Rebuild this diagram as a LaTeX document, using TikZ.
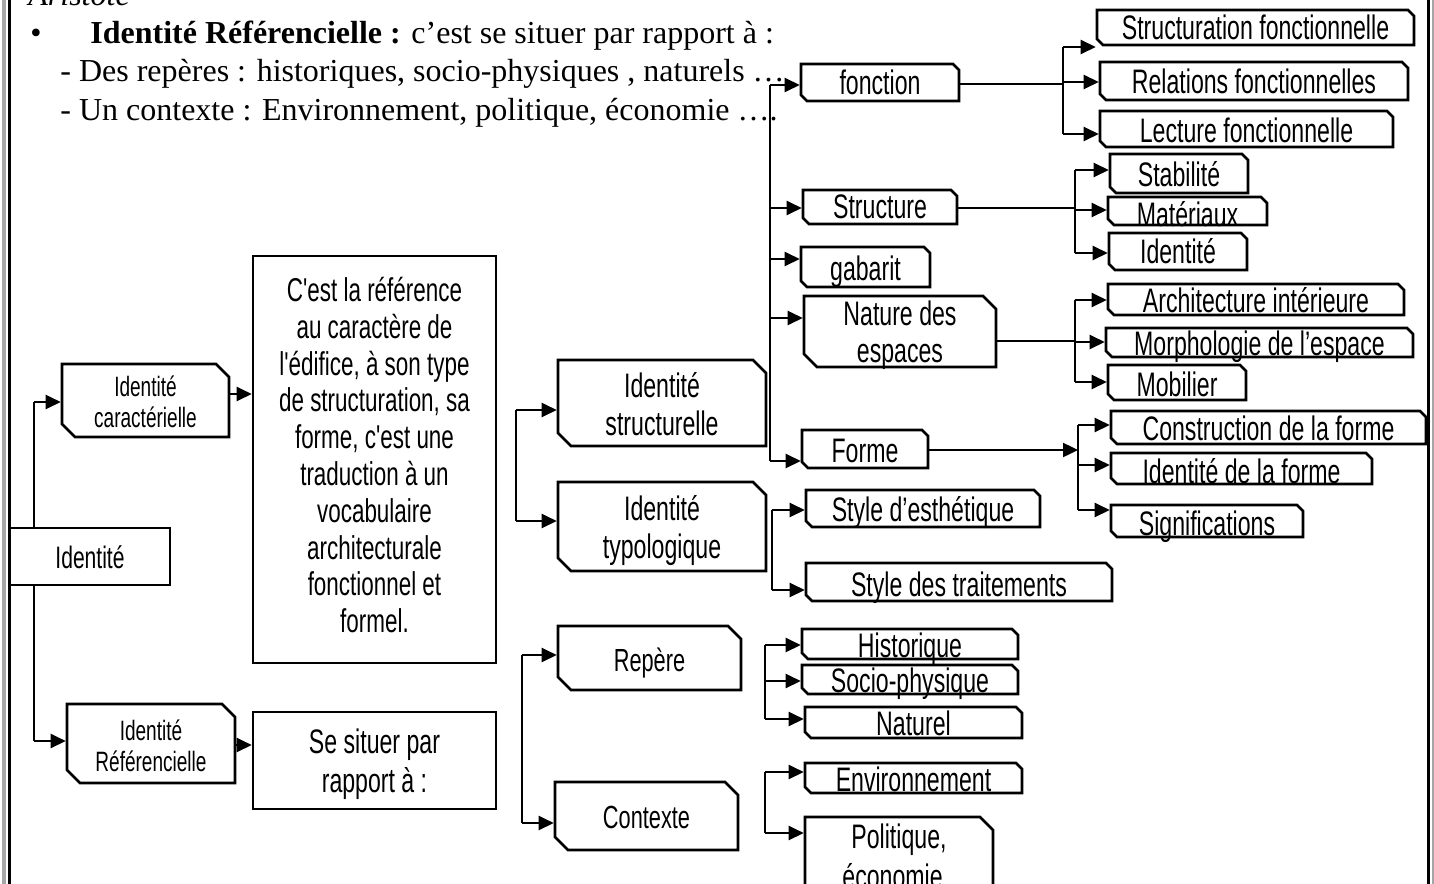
\documentclass[tikz,border=0pt]{standalone}
\usepackage{fontspec}
\setmainfont{Liberation Serif}
\newfontfamily\ag[FakeStretch=0.68]{Liberation Sans}
\usetikzlibrary{shapes.misc,arrows.meta}
\newcommand\fz[2]{\ag\fontsize{#1}{#2}\selectfont}
\newcommand\mkbox[8]{%
  \node[#1, minimum width={(#5-#3)*0.5pt}, minimum height={(#6-#4)*0.5pt}] (#2) at ({(#3+#5)/2},{(#4+#6)/2})
  {\raisebox{-#7pt}[0pt][0pt]{\begin{tabular}[t]{@{}c@{}}#8\end{tabular}}};}
\tikzset{
  bx/.style={chamfered rectangle, chamfered rectangle corners={north east,south west},
    chamfered rectangle xsep=3pt, chamfered rectangle ysep=3pt,
    draw, line width=1.3pt, fill=white, inner sep=0pt, font={\fz{17}{19}}},
  bigch/.style={chamfered rectangle xsep=6.5pt, chamfered rectangle ysep=6.5pt},
  rbx/.style={rectangle, draw, line width=1.3pt, fill=white, inner sep=0pt, font={\fz{17}{19}}},
  ln/.style={line width=1.2pt},
  ar/.style={line width=1.2pt, -{Triangle[length=7.5pt,width=7pt]}},
  txt/.style={anchor=base west, inner sep=0pt, font={\fontsize{16}{19}\selectfont}},
}
\begin{document}
\begin{tikzpicture}[x=0.5pt,y=-0.5pt]
\useasboundingbox (0,0) rectangle (1434,883);
\fill[white] (0,0) rectangle (1434,883);
% page borders
\draw[line width=2pt, gray!70] (4,-5) -- (4,890);
\draw[line width=1.6pt] (9.5,-5) -- (9.5,890);
\draw[line width=1.5pt] (1428,-5) -- (1428,890);
\draw[line width=1pt, gray!70] (1432.5,-5) -- (1432.5,890);
% header text
\node[txt, font={\fontsize{16}{19}\selectfont\itshape}] (ari) at (28,6) {Aristote};
\node[txt] (bul) at (30,44) {•};
\node[txt] (l1) at (90,44) {\textbf{Identité Référencielle :} c’est se situer par rapport à :};
\node[txt] (l2) at (60,82) {- Des repères : historiques, socio-physiques , naturels …};
\node[txt] (l3) at (60,120) {- Un contexte : Environnement, politique, économie ….};
% boxes
\mkbox{bx,bigch,font={\fz{14}{15.5}}}{car}{62}{364}{229}{437}{-2.25}{Identité\\caractérielle}
\mkbox{rbx,font={\fz{15.5}{17}}}{idt}{10}{528}{170}{585}{6}{Identité}
\mkbox{rbx,font={\fz{16.5}{18.4}}}{big}{253}{256}{496}{663}{-79}{C'est la référence\\au caractère de\\l'édifice, à son type\\de structuration, sa\\forme, c'est une\\traduction à un\\vocabulaire\\architecturale\\fonctionnel et\\formel.}
\mkbox{bx,bigch,font={\fz{14}{15.5}}}{ref}{67}{704}{235}{783}{-1.75}{Identité\\Référencielle}
\mkbox{rbx,font={\fz{17}{19.5}}}{sit}{253}{712}{496}{809}{-3.5}{Se situer par\\rapport à :}
\mkbox{bx,bigch}{sst}{558}{360}{766}{446}{-3}{Identité\\structurelle}
\mkbox{bx,bigch}{sty}{558}{482}{766}{571}{-3.25}{Identité\\typologique}
\mkbox{bx,bigch,font={\fz{16}{17}}}{rep}{558}{626}{741}{690}{6.5}{Repère}
\mkbox{bx,bigch,font={\fz{16}{17}}}{ctx}{555}{782}{738}{850}{6}{Contexte}
\mkbox{bx}{fon}{801}{64}{959}{101}{6.25}{fonction}
\mkbox{bx}{str}{803}{190}{957}{224}{5.5}{Structure}
\mkbox{bx}{gab}{801}{247}{930}{287}{6.75}{gabarit}
\mkbox{bx,bigch,font={\fz{17}{18.5}}}{nat}{804}{296}{996}{367}{-3.25}{Nature des\\espaces}
\mkbox{bx}{frm}{802}{430}{928}{468}{6.5}{Forme}
\mkbox{bx}{sde}{806}{490}{1040}{527}{6.25}{Style d’esthétique}
\mkbox{bx}{sdt}{806}{563}{1112}{601}{7}{Style des traitements}
\mkbox{bx}{sf}{1097}{10}{1414}{45}{6.25}{Structuration fonctionnelle}
\mkbox{bx}{rf}{1100}{62}{1408}{100}{6.5}{Relations fonctionnelles}
\mkbox{bx}{lf}{1100}{111}{1393}{147}{6.5}{Lecture fonctionnelle}
\mkbox{bx}{stb}{1110}{154}{1248}{193}{6.25}{Stabilité}
\mkbox{bx}{mat}{1108}{197}{1267}{225}{7.5}{Matériaux}
\mkbox{bx}{idr}{1109}{233}{1247}{270}{5.75}{Identité}
\mkbox{bx}{ai}{1108}{284}{1404}{315}{6.25}{Architecture intérieure}
\mkbox{bx}{mo}{1106}{328}{1413}{357}{6.25}{Morphologie de l’espace}
\mkbox{bx}{mob}{1108}{365}{1246}{400}{6.75}{Mobilier}
\mkbox{bx}{cf}{1111}{411}{1426}{444}{6.5}{Construction de la forme}
\mkbox{bx}{idf}{1111}{453}{1372}{484}{7.25}{Identité de la forme}
\mkbox{bx}{sig}{1111}{505}{1303}{537}{7}{Significations}
\mkbox{bx}{his}{802}{629}{1018}{659}{6.5}{Historique}
\mkbox{bx}{soc}{802}{665}{1018}{694}{6.25}{Socio-physique}
\mkbox{bx}{ntr}{805}{707}{1022}{738}{6.25}{Naturel}
\mkbox{bx}{env}{805}{763}{1022}{793}{6.5}{Environnement}
\mkbox{bx,bigch,font={\fz{17}{20}}}{pol}{805}{817}{993}{905}{-6.25}{Politique,\\économie..}
% connectors: Identite
\coordinate (k0) at (34,0);
\draw[ln] (k0 |- 0,402) -- (k0 |- idt.north);
\draw[ln] (k0 |- idt.south) -- (k0 |- 0,741);
\draw[ar] (k0 |- 0,402) -- (car.west |- 0,402);
\draw[ar] (k0 |- 0,741) -- (ref.west |- 0,741);
\draw[ar] (car.east |- 0,394) -- (big.west |- 0,394);
\draw[ar] (ref.east |- 0,745) -- (sit.west |- 0,745);
% bracket to structurelle / typologique
\coordinate (k1) at (516,0);
\draw[ln] (k1 |- 0,410) -- (k1 |- 0,521);
\draw[ar] (k1 |- 0,410) -- (sst.west |- 0,410);
\draw[ar] (k1 |- 0,521) -- (sty.west |- 0,521);
% bracket to repere / contexte
\coordinate (k2) at (522,0);
\draw[ln] (k2 |- 0,655) -- (k2 |- 0,823);
\draw[ar] (k2 |- 0,655) -- (rep.west |- 0,655);
\draw[ar] (k2 |- 0,823) -- (ctx.west |- 0,823);
% structurelle
\coordinate (k3) at (770,0);
\draw[ln] (k3 |- 0,85) -- (k3 |- 0,461);
\draw[ar] (k3 |- 0,85) -- (fon.west |- 0,85);
\draw[ar] (k3 |- 0,208) -- (str.west |- 0,208);
\draw[ar] (k3 |- 0,259) -- (gab.west |- 0,259);
\draw[ar] (k3 |- 0,318) -- (nat.west |- 0,318);
\draw[ar] (k3 |- 0,461) -- (frm.west |- 0,461);
% typologique
\coordinate (k4) at (772,0);
\draw[ln] (k4 |- 0,510) -- (k4 |- 0,590);
\draw[ar] (k4 |- 0,510) -- (sde.west |- 0,510);
\draw[ar] (k4 |- 0,590) -- (sdt.west |- 0,590);
% repere
\coordinate (k5) at (765,0);
\draw[ln] (k5 |- 0,645) -- (k5 |- 0,719);
\draw[ar] (k5 |- 0,645) -- (his.west |- 0,645);
\draw[ar] (k5 |- 0,681) -- (soc.west |- 0,681);
\draw[ar] (k5 |- 0,719) -- (ntr.west |- 0,719);
% contexte
\draw[ln] (k5 |- 0,772) -- (k5 |- 0,833);
\draw[ar] (k5 |- 0,772) -- (env.west |- 0,772);
\draw[ar] (k5 |- 0,833) -- (pol.west |- 0,833);
% fonction
\coordinate (k6) at (1063,0);
\draw[ln] (fon.east |- 0,84) -- (k6 |- 0,84);
\draw[ln] (k6 |- 0,47) -- (k6 |- 0,134);
\draw[ar] (k6 |- 0,47) -- (sf.west |- 0,47);
\draw[ar] (k6 |- 0,82) -- (rf.west |- 0,82);
\draw[ar] (k6 |- 0,134) -- (lf.west |- 0,134);
% structure
\coordinate (k7) at (1075,0);
\draw[ln] (str.east |- 0,208) -- (k7 |- 0,208);
\draw[ln] (k7 |- 0,170) -- (k7 |- 0,253);
\draw[ar] (k7 |- 0,170) -- (stb.west |- 0,170);
\draw[ar] (k7 |- 0,210) -- (mat.west |- 0,210);
\draw[ar] (k7 |- 0,253) -- (idr.west |- 0,253);
% nature
\draw[ln] (nat.east |- 0,341) -- (k7 |- 0,341);
\draw[ln] (k7 |- 0,300) -- (k7 |- 0,382);
\draw[ar] (k7 |- 0,300) -- (ai.west |- 0,300);
\draw[ar] (k7 |- 0,342) -- (mo.west |- 0,342);
\draw[ar] (k7 |- 0,382) -- (mob.west |- 0,382);
% forme
\coordinate (k8) at (1078,0);
\draw[ar] (frm.east |- 0,450) -- (k8 |- 0,450);
\draw[ln] (k8 |- 0,425) -- (k8 |- 0,510);
\draw[ar] (k8 |- 0,425) -- (cf.west |- 0,425);
\draw[ar] (k8 |- 0,465) -- (idf.west |- 0,465);
\draw[ar] (k8 |- 0,510) -- (sig.west |- 0,510);
\end{tikzpicture}
\end{document}
